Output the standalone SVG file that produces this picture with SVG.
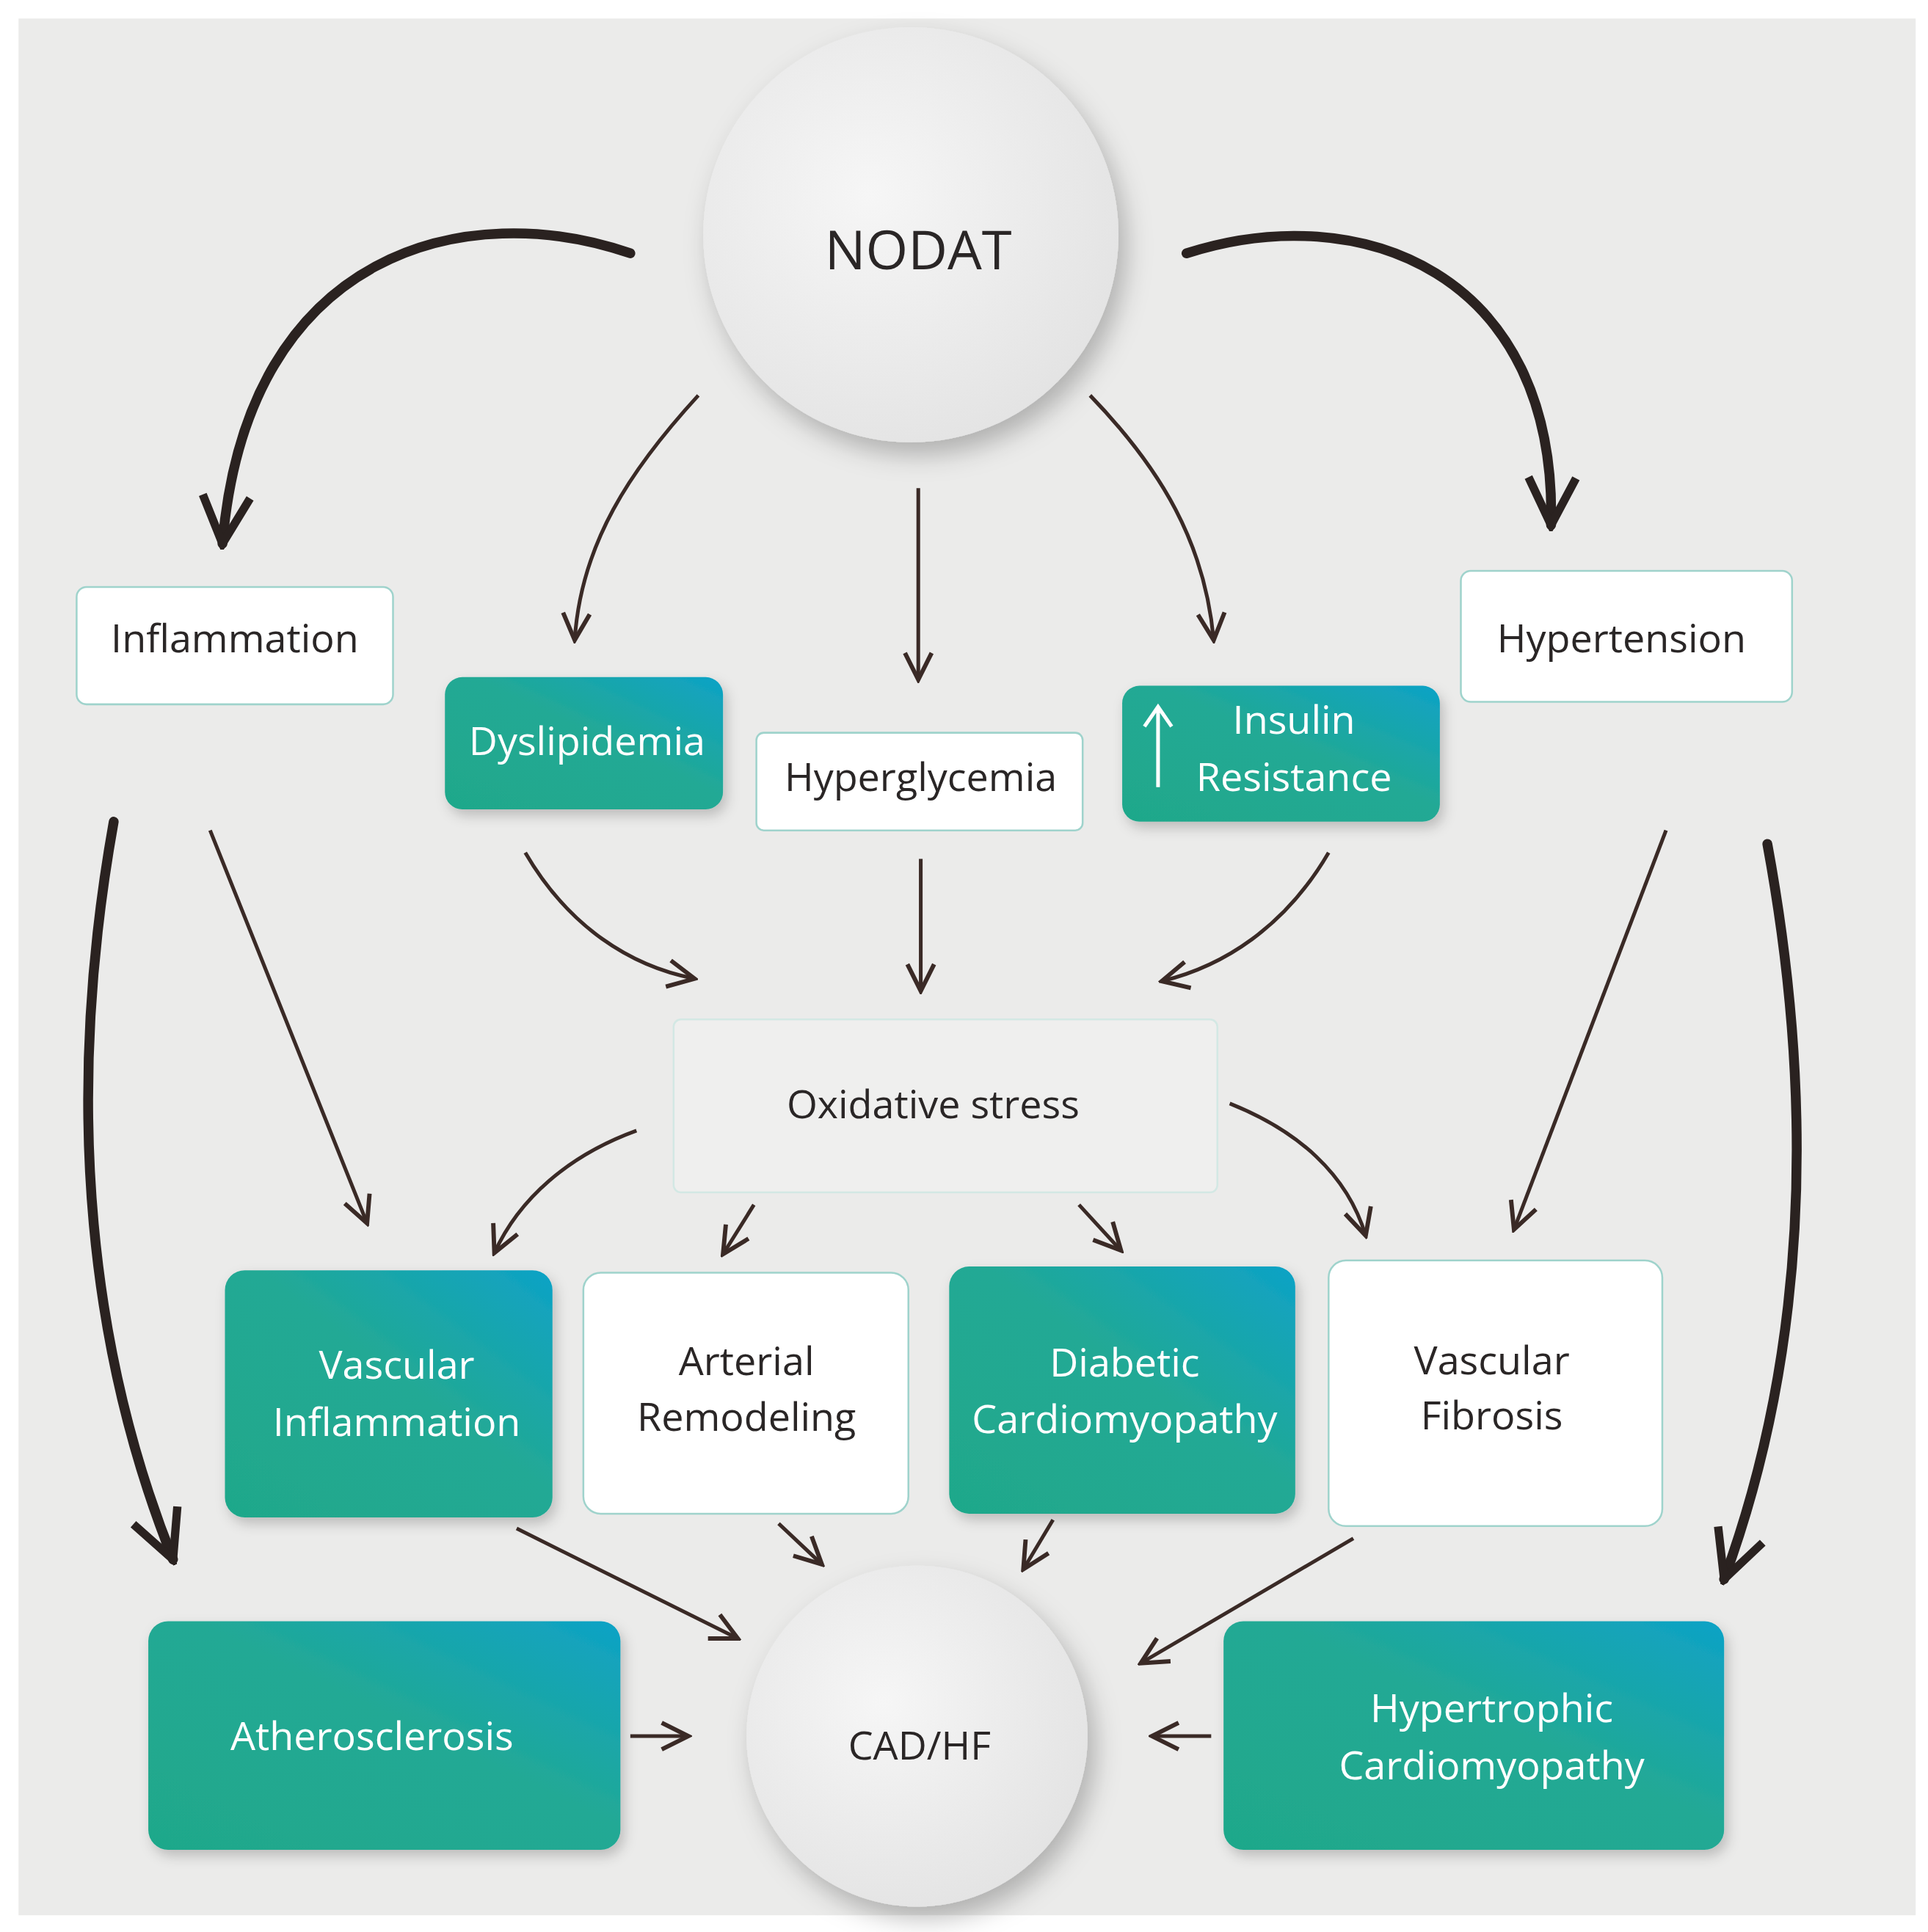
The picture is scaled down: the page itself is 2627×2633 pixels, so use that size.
<svg xmlns="http://www.w3.org/2000/svg" width="2627" height="2633" viewBox="0 0 2627 2633">
<defs>
<linearGradient id="teal" x1="0" y1="1" x2="1" y2="0">
<stop offset="0" stop-color="#1fa88a"/><stop offset="0.55" stop-color="#22a995"/><stop offset="1" stop-color="#0ea2c6"/>
</linearGradient>
<radialGradient id="disc" cx="0.4" cy="0.4" r="0.7">
<stop offset="0" stop-color="#f6f6f6"/><stop offset="1" stop-color="#e2e2e2"/>
</radialGradient>
<filter id="sh" x="-30%" y="-30%" width="160%" height="160%">
<feDropShadow dx="6" dy="10" stdDeviation="10" flood-color="#000" flood-opacity="0.25"/>
</filter>
<filter id="sh2" x="-20%" y="-20%" width="140%" height="140%">
<feDropShadow dx="3" dy="5" stdDeviation="5" flood-color="#000" flood-opacity="0.2"/>
</filter>
<marker id="a" viewBox="0 0 10 10" refX="9" refY="5" markerWidth="9" markerHeight="9" orient="auto" markerUnits="strokeWidth">
<path d="M1,1 L9,5 L1,9" fill="none" stroke="#3a2a26" stroke-width="1.3" stroke-linejoin="miter"/>
</marker>
<marker id="A" viewBox="0 0 10 10" refX="9" refY="5" markerWidth="6" markerHeight="6" orient="auto" markerUnits="strokeWidth">
<path d="M1,1 L9,5 L1,9" fill="none" stroke="#2a2220" stroke-width="1.4"/>
</marker>
</defs>
<style>
.t{font-family:"Open Sans","Liberation Sans",sans-serif;font-size:32px;text-anchor:middle}
.w{fill:#ffffff}
.d{fill:#2a2626}
.wb{fill:#ffffff;stroke:#9fd3cc;stroke-width:1.5}
.tb{fill:url(#teal)}
.thin{fill:none;stroke:#3a2a26;stroke-width:3;marker-end:url(#a)}
.thick{fill:none;stroke:#2a2220;stroke-width:8;stroke-linecap:round;marker-end:url(#A)}
</style>
<rect width="2627" height="2633" fill="#ffffff"/>
<g transform="scale(1.684)">
<rect x="15" y="15" width="1535" height="1535" fill="#ebebea"/>
<g id="connectors">
<path class="thick" d="M510,205 C380,160 200,200 180,440"/>
<path class="thick" d="M960,205 C1100,160 1260,220 1255,425"/>
<path class="thick" d="M92,665 C50,900 75,1100 140,1262"/>
<path class="thick" d="M1430,683 C1470,900 1460,1100 1395,1278"/>
<path class="thin" d="M565,320 C510,380 470,440 465,518"/>
<path class="thin" d="M743,395 L743,550"/>
<path class="thin" d="M882,320 C940,380 975,440 982,518"/>
<path class="thin" d="M425,690 C460,750 510,782 562,792"/>
<path class="thin" d="M745,695 L745,802"/>
<path class="thin" d="M1075,690 C1040,750 990,782 940,794"/>
<path class="thin" d="M170,672 L297,990"/>
<path class="thin" d="M1348,672 L1225,995"/>
<path class="thin" d="M515,915 C460,935 420,970 400,1014"/>
<path class="thin" d="M610,975 L585,1015"/>
<path class="thin" d="M873,975 L907,1012"/>
<path class="thin" d="M995,893 C1050,915 1090,950 1105,1000"/>
<path class="thin" d="M418,1237 L597,1326"/>
<path class="thin" d="M630,1233 L665,1266"/>
<path class="thin" d="M852,1230 L828,1270"/>
<path class="thin" d="M1095,1245 L923,1346"/>
<path class="thin" d="M510,1405 L557,1405"/>
<path class="thin" d="M980,1405 L932,1405"/>
</g>
<g id="nodat"><circle cx="737" cy="190" r="168" fill="url(#disc)" filter="url(#sh)"/><text class="t d" x="743" y="218" style="font-size:44px">NODAT</text></g>
<g id="inflammation"><rect class="wb" x="62" y="475" width="256" height="95" rx="8"/><text class="t d" x="190" y="528">Inflammation</text></g>
<g id="dyslipidemia"><rect class="tb" x="360" y="548" width="225" height="107" rx="14" filter="url(#sh2)"/><text class="t w" x="475" y="611">Dyslipidemia</text></g>
<g id="hyperglycemia"><rect class="wb" x="612" y="593" width="264" height="79" rx="6"/><text class="t d" x="745" y="640">Hyperglycemia</text></g>
<g id="insulin"><rect class="tb" x="908" y="555" width="257" height="110" rx="14" filter="url(#sh2)"/><path d="M937,637 L937,572 M926,588 L937,572 L948,588" fill="none" stroke="#fff" stroke-width="3"/><text class="t w" x="1047" y="594">Insulin</text><text class="t w" x="1047" y="640">Resistance</text></g>
<g id="hypertension"><rect class="wb" x="1182" y="462" width="268" height="106" rx="8"/><text class="t d" x="1312" y="528">Hypertension</text></g>
<g id="oxidative"><rect x="545" y="825" width="440" height="140" rx="6" fill="#efefee" stroke="#d3e8e4" stroke-width="1.5"/><text class="t d" x="755" y="905">Oxidative stress</text></g>
<g id="vascinfl"><rect class="tb" x="182" y="1028" width="265" height="200" rx="16" filter="url(#sh2)"/><text class="t w" x="321" y="1116">Vascular</text><text class="t w" x="321" y="1162">Inflammation</text></g>
<g id="arterial"><rect class="wb" x="472" y="1030" width="263" height="195" rx="14"/><text class="t d" x="604" y="1113">Arterial</text><text class="t d" x="604" y="1158">Remodeling</text></g>
<g id="diabetic"><rect class="tb" x="768" y="1025" width="280" height="200" rx="16" filter="url(#sh2)"/><text class="t w" x="910" y="1114">Diabetic</text><text class="t w" x="910" y="1160">Cardiomyopathy</text></g>
<g id="fibrosis"><rect class="wb" x="1075" y="1020" width="270" height="215" rx="14"/><text class="t d" x="1207" y="1112">Vascular</text><text class="t d" x="1207" y="1157">Fibrosis</text></g>
<g id="athero"><rect class="tb" x="120" y="1312" width="382" height="185" rx="16" filter="url(#sh2)"/><text class="t w" x="301" y="1416">Atherosclerosis</text></g>
<g id="cadhf"><circle cx="742" cy="1405" r="138" fill="url(#disc)" filter="url(#sh)"/><text class="t d" x="744" y="1424">CAD/HF</text></g>
<g id="hypertrophic"><rect class="tb" x="990" y="1312" width="405" height="185" rx="16" filter="url(#sh2)"/><text class="t w" x="1207" y="1394">Hypertrophic</text><text class="t w" x="1207" y="1440">Cardiomyopathy</text></g>
</g>
</svg>
